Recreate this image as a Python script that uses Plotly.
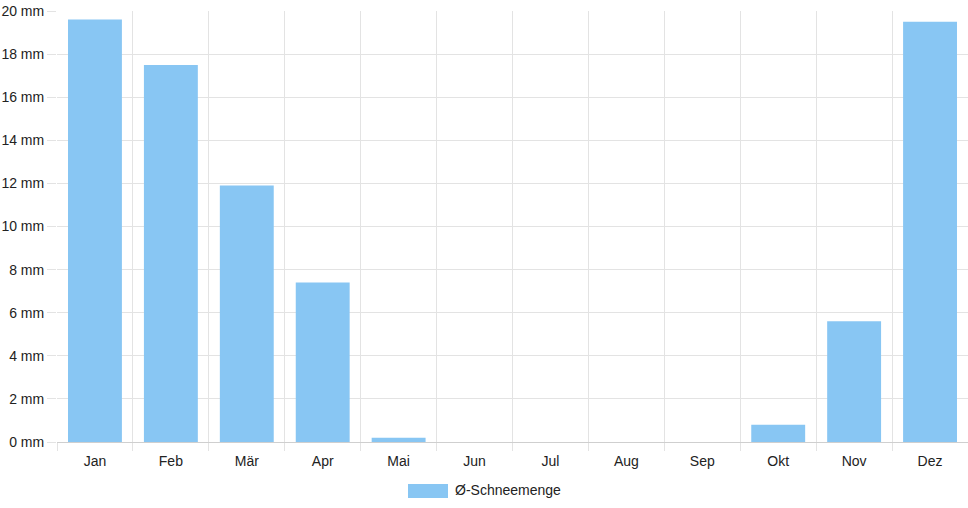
import plotly.graph_objects as go

months = ["Jan", "Feb", "Mär", "Apr", "Mai", "Jun", "Jul", "Aug", "Sep", "Okt", "Nov", "Dez"]
snow_mm = [19.6, 17.5, 11.9, 7.4, 0.2, 0, 0, 0, 0, 0.8, 5.6, 19.5]
y_ticks = [0, 2, 4, 6, 8, 10, 12, 14, 16, 18, 20]
y_tick_labels = [f"{v} mm" for v in y_ticks]
series_name = "Ø-Schneemenge"

bar_color = "rgb(136,198,243)"
grid_color = "#e3e3e3"

W, H = 968, 508
L, R, T, B = 57, 0, 11, 66
pw, ph = W - L - R, H - T - B

fig = go.Figure()
fig.add_trace(go.Bar(
    x=months, y=snow_mm, name=series_name,
    marker=dict(color=bar_color, line=dict(width=0)),
    showlegend=False,
))

fig.update_layout(
    width=W, height=H,
    margin=dict(l=L, r=R, t=T, b=B, pad=0),
    paper_bgcolor="white", plot_bgcolor="white",
    bargap=0.29,
    font=dict(family="Liberation Sans, Arial, sans-serif", size=14, color="#222"),
    xaxis=dict(
        type="category", tickson="boundaries", automargin=False,
        showgrid=True, gridcolor=grid_color, gridwidth=1,
        ticks="outside", ticklen=8, tickcolor=grid_color,
        showline=True, linecolor="#cfcfcf", linewidth=1,
        ticklabelstandoff=6,
        tickfont=dict(size=14, color="#222"),
    ),
    yaxis=dict(
        range=[0, 20], tickvals=y_ticks, ticktext=y_tick_labels,
        automargin=False,
        showgrid=True, gridcolor=grid_color, gridwidth=1,
        ticks="outside", ticklen=9, tickcolor=grid_color,
        zeroline=False, showline=False,
        tickfont=dict(size=14, color="#222"),
    ),
)

# custom legend swatch + label
fig.add_shape(type="rect", xref="paper", yref="paper",
              x0=(408 - L) / pw, x1=(448 - L) / pw,
              y0=-(484 - (H - B)) / ph, y1=-(498 - (H - B)) / ph,
              fillcolor=bar_color, line=dict(width=0))
fig.add_annotation(xref="paper", yref="paper",
                   x=(453 - L) / pw, y=-(490 - (H - B)) / ph,
                   text=series_name, showarrow=False,
                   xanchor="left", yanchor="middle",
                   font=dict(size=14, color="#222"))

fig.write_html("out.html", config={"displayModeBar": False},
               post_script="document.body.style.margin='0';")
